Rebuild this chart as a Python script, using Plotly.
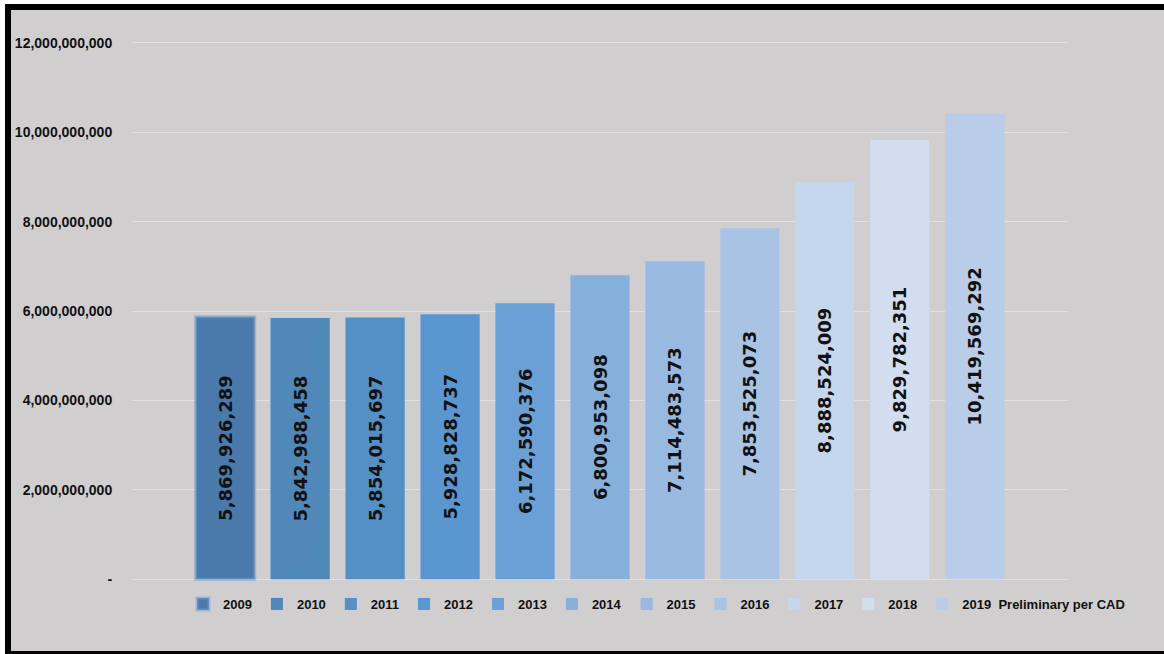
import plotly.graph_objects as go

years = ["2009", "2010", "2011", "2012", "2013", "2014", "2015", "2016", "2017", "2018",
         "2019  Preliminary per CAD"]
values = [5869926289, 5842988458, 5854015697, 5928828737, 6172590376, 6800953098,
          7114483573, 7853525073, 8888524009, 9829782351, 10419569292]
colors = ["#4a7aab", "#4f88b9", "#548fc6", "#5a96d0", "#6aa0d5", "#85b0dc",
          "#98b9e0", "#a9c3e5", "#c5d7ec", "#d2ddef", "#b9cde8"]
tick_vals = [0, 2e9, 4e9, 6e9, 8e9, 10e9, 12e9]
tick_text = ["-", "2,000,000,000", "4,000,000,000", "6,000,000,000", "8,000,000,000",
             "10,000,000,000", "12,000,000,000"]

W, H = 1164, 654
T, B = 41, 73
ph = H - T - B
AX_L, AX_R = 132, 1068

LABEL_FONT = "Liberation Sans Narrow, Arial Narrow, Liberation Sans, Arial, sans-serif"

fig = go.Figure()
for i, (yr, v, c) in enumerate(zip(years, values, colors)):
    fig.add_trace(go.Bar(
        x=["All"], y=[v], name=yr.replace("  ", "\u00a0\u00a0"),
        marker=dict(color=c,
                    line=dict(width=3 if i == 0 else 0, color="rgba(120,160,205,0.55)")),
        text=[f"{v:,}"], textposition="inside", insidetextanchor="middle",
        textangle=-90, constraintext="none",
        textfont=dict(family="DejaVu Sans", size=18, color="#111111", weight="bold"),
        hoverinfo="skip",
    ))

def px(x):
    return x / W

def py(y):
    return (H - B - y) / ph

bg = "#d0cece"
shapes = [
    dict(type="rect", xref="paper", yref="paper", x0=px(-5), x1=px(W + 5), y0=py(-5), y1=py(H + 5),
         fillcolor="white", line=dict(width=0), layer="below"),
    dict(type="rect", xref="paper", yref="paper", x0=px(5), x1=px(W + 5), y0=py(4), y1=py(H + 5),
         fillcolor="black", line=dict(width=0), layer="below"),
    dict(type="rect", xref="paper", yref="paper", x0=px(11), x1=px(W + 5), y0=py(10), y1=py(651),
         fillcolor=bg, line=dict(width=0), layer="below"),
]

fig.update_layout(
    width=W, height=H,
    margin=dict(l=0, r=0, t=T, b=B, autoexpand=False),
    paper_bgcolor="white", plot_bgcolor="rgba(0,0,0,0)",
    barmode="group", bargap=0.119, bargroupgap=0.21,
    showlegend=True,
    legend=dict(orientation="h", x=px(183), y=py(589), xanchor="left", yanchor="top",
                font=dict(family=LABEL_FONT, size=13, color="#111111", weight="bold"),
                itemwidth=30, bgcolor="rgba(0,0,0,0)", traceorder="normal"),
    shapes=shapes,
    xaxis=dict(domain=[px(AX_L), px(AX_R)], showticklabels=False, showgrid=False,
               zeroline=False, showline=False, automargin=False),
    yaxis=dict(range=[-0.04e9, 12.04e9], tickvals=tick_vals, ticktext=tick_text,
               automargin=False,
               showgrid=True, gridcolor="#e2e0e0", gridwidth=1, zeroline=False,
               showline=False, ticks="outside", ticklen=16, tickcolor="rgba(0,0,0,0)",
               tickfont=dict(family=LABEL_FONT, size=14, color="#111111", weight="bold")),
)

fig.write_html("out.html")
